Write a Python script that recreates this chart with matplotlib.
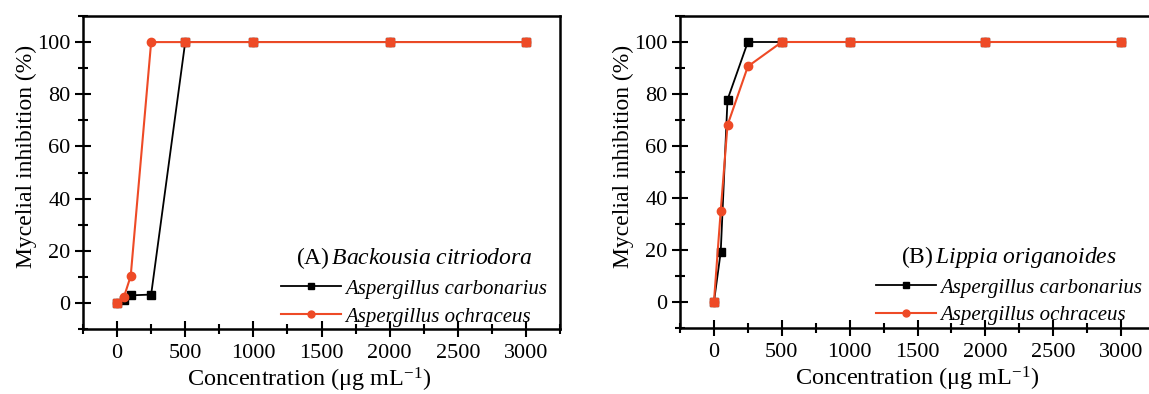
import numpy as np
import matplotlib
matplotlib.use("Agg")
import matplotlib.pyplot as plt
from matplotlib.ticker import MultipleLocator

plt.rcParams['font.family'] = ['Liberation Serif', 'DejaVu Serif']
plt.rcParams['mathtext.fontset'] = 'custom'
plt.rcParams['mathtext.rm'] = 'Liberation Serif'
plt.rcParams['mathtext.it'] = 'Liberation Serif:italic'

# concentrations (ug/mL)
conc = [0, 50, 100, 250, 500, 1000, 2000, 3000]

# (A) Backousia citriodora
a_carb = [0, 1.3, 2.9, 3.2, 100, 100, 100, 100]
a_ochr = [0, 2.2, 10.3, 100, 100, 100, 100, 100]

# (B) Lippia origanoides
b_carb = [0, 19.2, 77.8, 100, 100, 100, 100, 100]
b_ochr = [0, 35, 68, 90.6, 100, 100, 100, 100]

panels = [
    (r"(A)$\,\it{Backousia\ citriodora}$", a_carb, a_ochr),
    (r"(B)$\,\it{Lippia\ origanoides}$", b_carb, b_ochr),
]
labels = ["Aspergillus carbonarius", "Aspergillus ochraceus"]

orange = '#EE4A26'
W, H = 1149, 394
fig = plt.figure(figsize=(W / 100, H / 100), dpi=100)

# axes boxes in pixels: left, right, top, bottom
boxes = [(83, 560, 16, 329), (680, 1155, 16, 328)]
xlab_pos = [0.474, 0.5]

for (title, carb, ochr), (l, r, t, b), xl in zip(panels, boxes, xlab_pos):
    ax = fig.add_axes([l / W, 1 - b / H, (r - l) / W, (b - t) / H])
    x = np.array(conc)
    carb = np.array(carb)
    ochr = np.array(ochr)
    ax.plot(x, carb, color='black', marker='s', ms=5.5, lw=1.3, label=labels[0])
    ax.plot(x, ochr, color=orange, marker='o', ms=6, lw=1.5, label=labels[1])
    same = carb == ochr
    ax.plot(x[same], ochr[same], ls='none', marker='s', ms=6, color=orange)

    ax.set_xlim(-250, 3250)
    ax.set_ylim(-10, 110)
    ax.xaxis.set_major_locator(MultipleLocator(500))
    ax.xaxis.set_minor_locator(MultipleLocator(250))
    ax.yaxis.set_major_locator(MultipleLocator(20))
    ax.yaxis.set_minor_locator(MultipleLocator(10))
    ax.tick_params(which='both', direction='inout', width=1.5,
                   labelsize=16, top=False, right=False)
    ax.tick_params(which='major', length=12)
    ax.tick_params(which='minor', length=7)
    ax.tick_params(axis='y', pad=3)
    ax.tick_params(axis='x', pad=5)
    for s in ax.spines.values():
        s.set_linewidth(1.8)

    ax.set_xlabel(r"Concentration ($\mathrm{\mu}$g mL$^{\mathrm{-1}}$)", fontsize=17.5)
    ax.set_ylabel("Mycelial inhibition (%)", fontsize=17)
    ax.xaxis.set_label_coords(xl, -0.118)
    ax.yaxis.set_label_coords(-0.097, 0.55)

    leg = ax.legend(loc='lower right', bbox_to_anchor=(1.0, -0.032), frameon=False,
                    title=title, title_fontsize=17,
                    prop={'style': 'italic', 'size': 15},
                    handlelength=2.9, handletextpad=0.2, labelspacing=0.4,
                    borderaxespad=0.2)
    leg._legend_box.sep = 6
    for h in leg.legend_handles:
        h.set_markersize(5)

fig.savefig("out.png", dpi=100)
